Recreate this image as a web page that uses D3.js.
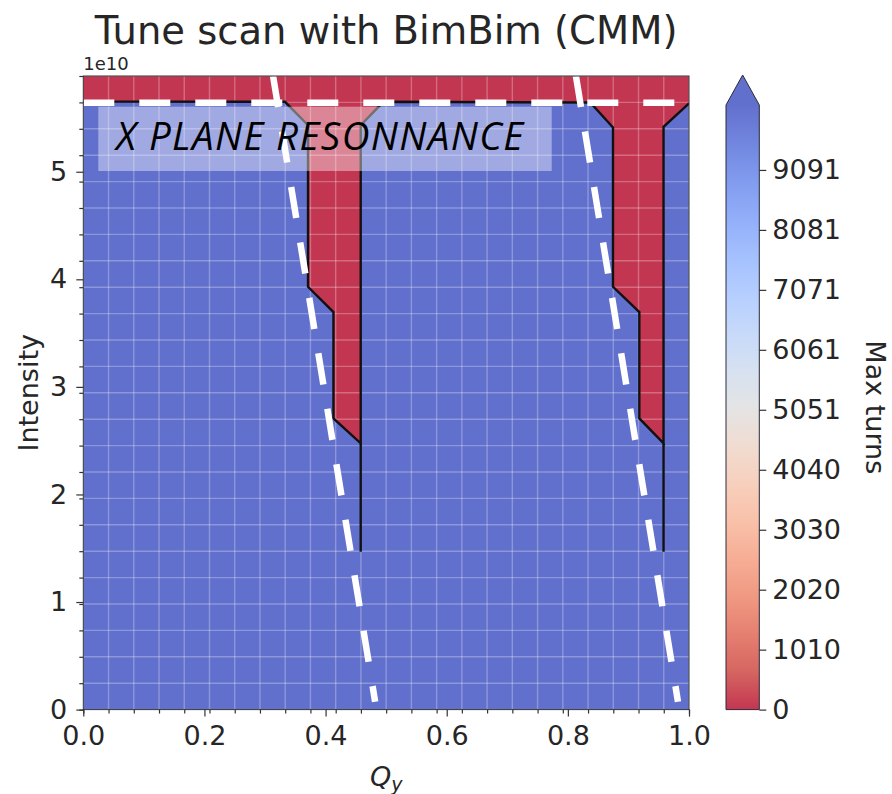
<!DOCTYPE html>
<html><head><meta charset="utf-8">
<script src="https://cdn.jsdelivr.net/npm/d3@7"></script>
<style>
body{margin:0;background:#fff}
svg{display:block}
text{font-family:"DejaVu Sans",sans-serif;fill:#262626}
</style>
</head><body>
<svg id="chart" width="892" height="794"></svg>
<script>
// ---------------- data ----------------
const chartTitle = "Tune scan with BimBim (CMM)";
const qyDomain = [0, 1];
const intensityDomain = [0, 5.89];          // x 1e10
const qyTicks = [0, 0.2, 0.4, 0.6, 0.8, 1.0];
const intensityTicks = [0, 1, 2, 3, 4, 5];
const scanStepsQy = 24;                      // scan grid cells along Qy
const scanStepsI = 24;                       // scan grid cells along intensity
const cbarTicks = [0, 1010, 2020, 3030, 4040, 5051, 6061, 7071, 8081, 9091];
const cbarMax = 10185;                       // top of colour bar (max turns)
const stableTurns = 10200;                   // surviving particles (over range)
const lostTurns = 0;                         // lost immediately

// boundary of the unstable (lost) region, Qy and intensity (1e10)
const lossQy = [0, 1, 1, 0.958, 0.958, 0.918, 0.918, 0.8745, 0.8745, 0.837,
                0.4955, 0.458, 0.458, 0.413, 0.413, 0.371, 0.371, 0.333, 0];
const lossI  = [5.89, 5.89, 5.636, 5.417, 2.475, 2.707, 3.695, 3.93, 5.412, 5.644,
                5.650, 5.433, 2.475, 2.707, 3.695, 3.93, 5.433, 5.650, 5.652];
// contour tails below the unstable columns
const tailQy = [0.458, 0.958];
const tailTopI = 2.475;
const tailBottomI = 1.468;

// resonance lines (dashed white)
const resonanceQyTop = [0.3133, 0.8133];
const resonanceQyBottom = [0.4818, 0.9818];
const resonanceIBottom = 0.073;
const xPlaneResonanceI = 5.642;
const annotationText = "X PLANE RESONNANCE";

// coolwarm colormap (reversed use: 0 turns -> red)
const coolwarmPos = [0, 0.0625, 0.125, 0.1875, 0.25, 0.3125, 0.375, 0.4375, 0.5,
                     0.5625, 0.625, 0.6875, 0.75, 0.8125, 0.875, 0.9375, 1];
const coolwarmRGB = [
  [59,76,192],[77,104,215],[98,130,234],[119,154,247],[141,176,254],[163,194,255],
  [184,208,249],[204,217,238],[221,221,221],[236,211,197],[245,196,172],[247,177,148],
  [244,154,123],[236,127,99],[222,96,77],[203,62,56],[180,4,38]];
const fillAlpha = 0.8;

// ---------------- drawing ----------------
const svg = d3.select("#chart");
const plot = {left: 83.3, right: 689, top: 76, bottom: 709.6};
const x = d3.scaleLinear().domain(qyDomain).range([plot.left, plot.right]);
const y = d3.scaleLinear().domain(intensityDomain).range([plot.bottom, plot.top]);

function blend(c){ return d3.rgb(c[0]*fillAlpha + 255*(1-fillAlpha),
                                 c[1]*fillAlpha + 255*(1-fillAlpha),
                                 c[2]*fillAlpha + 255*(1-fillAlpha)).formatHex(); }
// coolwarm_r over turns
const cmap = d3.scaleLinear()
  .domain(coolwarmPos.map(p => (1 - p) * cbarMax))
  .range(coolwarmRGB.map(blend))
  .interpolate(d3.interpolateRgb)
  .clamp(true);

const defs = svg.append("defs");
defs.append("clipPath").attr("id","plotclip").append("rect")
  .attr("x",plot.left).attr("y",plot.top)
  .attr("width",plot.right-plot.left).attr("height",plot.bottom-plot.top);

const g = svg.append("g").attr("clip-path","url(#plotclip)");
// stable background
g.append("rect").attr("x",plot.left).attr("y",plot.top)
  .attr("width",plot.right-plot.left).attr("height",plot.bottom-plot.top)
  .attr("fill", cmap(stableTurns));
// unstable region
const lossPts = lossQy.map((q,i)=>[x(q), y(lossI[i])]);
g.append("path").attr("d", d3.line()(lossPts) + "Z").attr("fill", cmap(lostTurns));

// scan grid
const gridQ = d3.range(scanStepsQy+1).map(i => qyDomain[0] + i*(qyDomain[1]-qyDomain[0])/scanStepsQy);
const gridI = d3.range(scanStepsI+1).map(j => intensityDomain[0] + j*(intensityDomain[1]-intensityDomain[0])/scanStepsI);
g.append("g").selectAll("line").data(gridQ).join("line")
  .attr("x1",d=>x(d)).attr("x2",d=>x(d)).attr("y1",plot.top).attr("y2",plot.bottom)
  .attr("stroke","#fff").attr("stroke-opacity",0.27).attr("stroke-width",1.4);
g.append("g").selectAll("line").data(gridI).join("line")
  .attr("y1",d=>y(d)).attr("y2",d=>y(d)).attr("x1",plot.left).attr("x2",plot.right)
  .attr("stroke","#fff").attr("stroke-opacity",0.27).attr("stroke-width",1.4);

// contour line (boundary except top edge)
g.append("path").attr("d", d3.line()(lossPts.slice(2)))
  .attr("fill","none").attr("stroke","#111").attr("stroke-width",2.4).attr("stroke-linejoin","miter");
g.selectAll(".tail").data(tailQy).join("line").attr("class","tail")
  .attr("x1",d=>x(d)).attr("x2",d=>x(d)).attr("y1",y(tailTopI)).attr("y2",y(tailBottomI))
  .attr("stroke","#111").attr("stroke-width",2.4);

// resonance lines
g.append("line").attr("x1",x(qyDomain[0])).attr("x2",x(qyDomain[1]))
  .attr("y1",y(xPlaneResonanceI)).attr("y2",y(xPlaneResonanceI))
  .attr("stroke","#fff").attr("stroke-width",6.5).attr("stroke-dasharray","31,25");
resonanceQyTop.forEach((qt,i)=>{
  g.append("line").attr("x1",x(qt)).attr("y1",y(intensityDomain[1]))
    .attr("x2",x(resonanceQyBottom[i])).attr("y2",y(resonanceIBottom))
    .attr("stroke","#fff").attr("stroke-width",6.5).attr("stroke-dasharray","31.5,24.7");
});

// annotation box
svg.append("rect").attr("x",98.3).attr("y",106.7).attr("width",453.4).attr("height",64.3)
  .attr("fill","#fff").attr("fill-opacity",0.4);
svg.append("text").attr("x",116).attr("y",150)
  .style("font-family","'Open Sans', sans-serif").style("font-style","italic")
  .style("font-weight","400").style("letter-spacing","1.4px")
  .style("font-size","38.5px").style("fill","#000").text(annotationText);

// spines
svg.append("rect").attr("x",plot.left).attr("y",plot.top)
  .attr("width",plot.right-plot.left).attr("height",plot.bottom-plot.top)
  .attr("fill","none").attr("stroke","#333").attr("stroke-width",1);

// axes
const fs = "27px";
const xAxis = svg.append("g").attr("transform",`translate(0,${plot.bottom})`)
  .call(d3.axisBottom(x).tickValues(qyTicks).tickFormat(d3.format(".1f")).tickSize(7).tickPadding(9));
const xMinor = svg.append("g").attr("transform",`translate(0,${plot.bottom})`)
  .call(d3.axisBottom(x).tickValues(gridQ).tickFormat("").tickSize(4));
const yAxis = svg.append("g").attr("transform",`translate(${plot.left},0)`)
  .call(d3.axisLeft(y).tickValues(intensityTicks).tickFormat(d3.format("d")).tickSize(7).tickPadding(9));
const yMinor = svg.append("g").attr("transform",`translate(${plot.left},0)`)
  .call(d3.axisLeft(y).tickValues(gridI).tickFormat("").tickSize(4));
[xAxis,xMinor,yAxis,yMinor].forEach(a=>{
  a.select(".domain").remove();
  a.selectAll("line").attr("stroke","#333").attr("stroke-width",1.2);
  a.selectAll("text").style("font-size",fs).style("font-family","'DejaVu Sans'").attr("fill","#262626");
});

// labels
svg.append("text").attr("x",(plot.left+plot.right)/2).attr("y",43.5).attr("text-anchor","middle")
  .style("font-size","38.5px").text(chartTitle);
svg.append("text").attr("x",plot.left).attr("y",70).style("font-size","18px").text("1e10");
svg.append("text").attr("transform",`translate(38,${(plot.top+plot.bottom)/2}) rotate(-90)`)
  .attr("text-anchor","middle").style("font-size",fs).text("Intensity");
const ql = svg.append("text").attr("x",(plot.left+plot.right)/2).attr("y",786).attr("text-anchor","middle")
  .style("font-size",fs).style("font-style","italic");
ql.append("tspan").text("Q");
ql.append("tspan").attr("dy",5).style("font-size","19px").text("y");

// colour bar
const cb = {left: 726, right: 759.3, top: 105, bottom: plot.bottom, tip: 75};
const cy = d3.scaleLinear().domain([0, cbarMax]).range([cb.bottom, cb.top]);
const grad = defs.append("linearGradient").attr("id","cbgrad")
  .attr("x1",0).attr("y1",1).attr("x2",0).attr("y2",0);
grad.selectAll("stop").data(coolwarmPos).join("stop")
  .attr("offset",p=>p)
  .attr("stop-color",p=>cmap((p)*cbarMax));
svg.append("rect").attr("x",cb.left).attr("y",cb.top).attr("width",cb.right-cb.left)
  .attr("height",cb.bottom-cb.top).attr("fill","url(#cbgrad)");
svg.append("path").attr("d",`M${cb.left},${cb.top}L${(cb.left+cb.right)/2},${cb.tip}L${cb.right},${cb.top}Z`)
  .attr("fill",cmap(stableTurns));
svg.append("path").attr("d",`M${cb.left},${cb.bottom}L${cb.left},${cb.top}L${(cb.left+cb.right)/2},${cb.tip}L${cb.right},${cb.top}L${cb.right},${cb.bottom}Z`)
  .attr("fill","none").attr("stroke","#2a2a3a").attr("stroke-width",1);
const cAxis = svg.append("g").attr("transform",`translate(${cb.right},0)`)
  .call(d3.axisRight(cy).tickValues(cbarTicks).tickFormat(d3.format("d")).tickSize(7).tickPadding(6));
cAxis.select(".domain").remove();
cAxis.selectAll("line").attr("stroke","#333").attr("stroke-width",1.2);
cAxis.selectAll("text").style("font-size",fs).style("font-family","'DejaVu Sans'").attr("fill","#262626");
svg.append("text").attr("transform",`translate(866,${(cb.top+cb.bottom)/2}) rotate(90)`)
  .attr("text-anchor","middle").style("font-size",fs).text("Max turns");
</script>
</body></html>
